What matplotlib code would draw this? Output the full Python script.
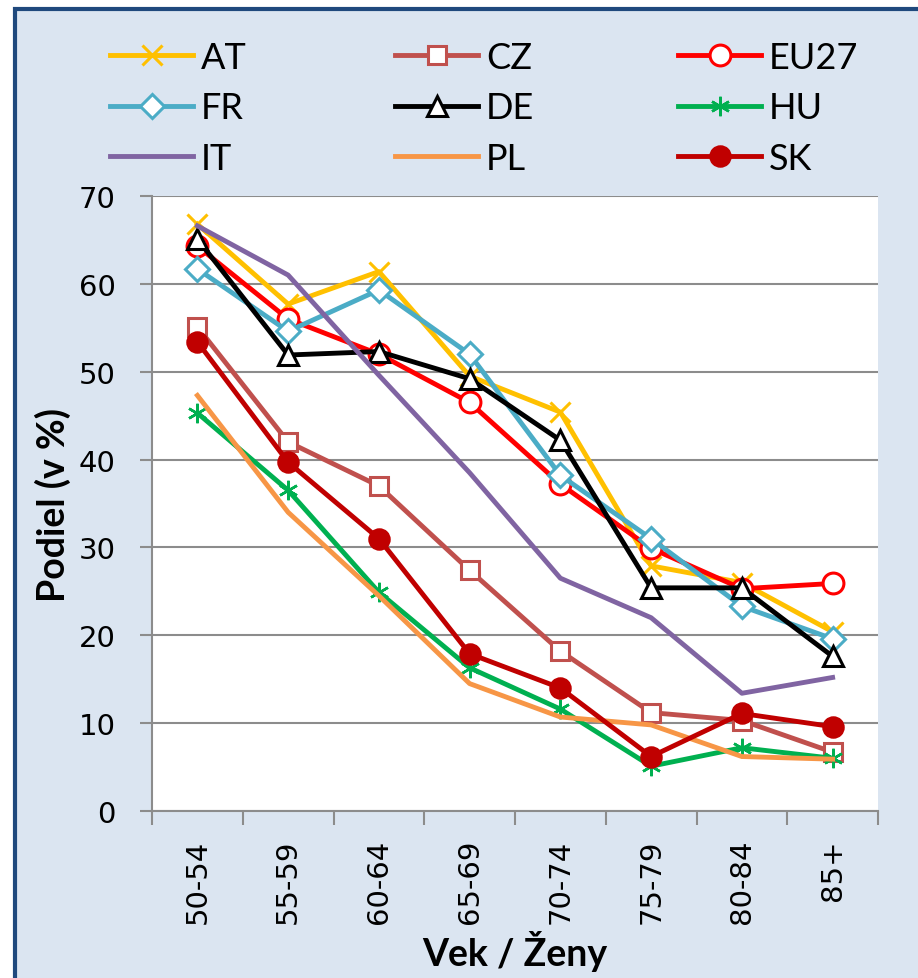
import matplotlib.pyplot as plt
from matplotlib.patches import Rectangle

# data
categories = ['50-54', '55-59', '60-64', '65-69', '70-74', '75-79', '80-84', '85+']
at = [66.8, 57.7, 61.4, 49.5, 45.4, 27.9, 26.0, 20.4]
cz = [55.1, 42.0, 37.0, 27.4, 18.2, 11.2, 10.3, 6.7]
eu27 = [64.3, 56.0, 52.0, 46.5, 37.2, 29.9, 25.3, 25.9]
fr = [61.7, 54.6, 59.3, 52.0, 38.2, 31.0, 23.3, 19.6]
de = [65.1, 51.9, 52.3, 49.2, 42.2, 25.4, 25.4, 17.6]
hu = [45.3, 36.5, 24.9, 16.3, 11.6, 5.1, 7.2, 6.0]
it = [66.6, 61.0, 49.6, 38.5, 26.5, 22.0, 13.4, 15.2]
pl = [47.3, 34.0, 24.5, 14.5, 10.7, 9.8, 6.2, 5.9]
sk = [53.4, 39.7, 31.0, 17.9, 14.0, 6.2, 11.1, 9.6]

fig = plt.figure(figsize=(9.18, 9.79), dpi=100)
fig.patch.set_facecolor('white')
fig.patches.append(Rectangle((15 / 918, -0.05), 1.1, 1.05 - 10 / 979,
                             transform=fig.transFigure, facecolor='#DBE5F1',
                             edgecolor='#1F497D', linewidth=3, zorder=-10))

ax = fig.add_axes([152 / 918, 1 - 812 / 979, 726 / 918, 615 / 979])
ax.set_zorder(1)
ax.set_facecolor('white')

x = list(range(len(categories)))
lw = 3.5
mew = 2.2

series = [
    ('AT', at, dict(color='#FFC000', marker='x', ms=15, mew=2.2)),
    ('CZ', cz, dict(color='#C0504D', marker='s', ms=13, mfc='white', mew=mew)),
    ('EU27', eu27, dict(color='#FF0000', marker='o', ms=15, mfc='white', mew=mew)),
    ('FR', fr, dict(color='#4BACC6', marker='D', ms=12, mfc='white', mew=mew)),
    ('DE', de, dict(color='black', marker='^', ms=15, mfc='white', mew=mew)),
    ('HU', hu, dict(color='#00B050', marker=(6, 2, 0), ms=14, mew=1.8)),
    ('IT', it, dict(color='#8064A2')),
    ('PL', pl, dict(color='#F79646')),
    ('SK', sk, dict(color='#C00000', marker='o', ms=14, mew=mew)),
]

handles = {}
for i, (name, vals, style) in enumerate(series):
    line, = ax.plot(x, vals, lw=lw, label=name, zorder=3 + i, **style)
    handles[name] = line

ax.set_xlim(-0.5, 7.5)
ax.set_ylim(0, 70)
ax.set_yticks(range(0, 71, 10))
ax.yaxis.grid(True, color='#8C8C8C', lw=1.5)
ax.set_axisbelow(True)

ax.set_xticks([i - 0.5 for i in range(9)])
ax.set_xticklabels([])
ax.set_xticks(x, minor=True)
ax.set_xticklabels(categories, minor=True, rotation=90)
ax.tick_params(axis='x', which='minor', length=0, pad=20, labelsize=21)
ax.tick_params(axis='x', which='major', length=10, width=1.5, color='#8C8C8C')
ax.tick_params(axis='y', length=9, width=1.5, color='#8C8C8C', pad=17, labelsize=21)

for side in ['top', 'right']:
    ax.spines[side].set_visible(False)
for side in ['left', 'bottom']:
    ax.spines[side].set_color('#8C8C8C')
    ax.spines[side].set_linewidth(1.5)

narrow = ['Lato', 'DejaVu Sans']
ax.set_ylabel('Podiel (v %)', fontsize=27, fontweight='bold', family=narrow, labelpad=6)
ax.set_xlabel('Vek / Ženy', fontsize=27, fontweight='bold', family=narrow, labelpad=5)

# one legend per column so the columns sit where the reference has them
columns = [(['AT', 'FR', 'IT'], 110), (['CZ', 'DE', 'PL'], 395), (['EU27', 'HU', 'SK'], 678)]
for names, left in columns:
    fig.legend([handles[n] for n in names], names, loc='upper left',
               bbox_to_anchor=(left / 918, 1 - 42 / 979), frameon=False,
               prop={'family': narrow, 'size': 26}, handlelength=2.3,
               handletextpad=0.22, labelspacing=0.48,
               borderpad=0, borderaxespad=0)

fig.savefig('out.png', dpi=100)
